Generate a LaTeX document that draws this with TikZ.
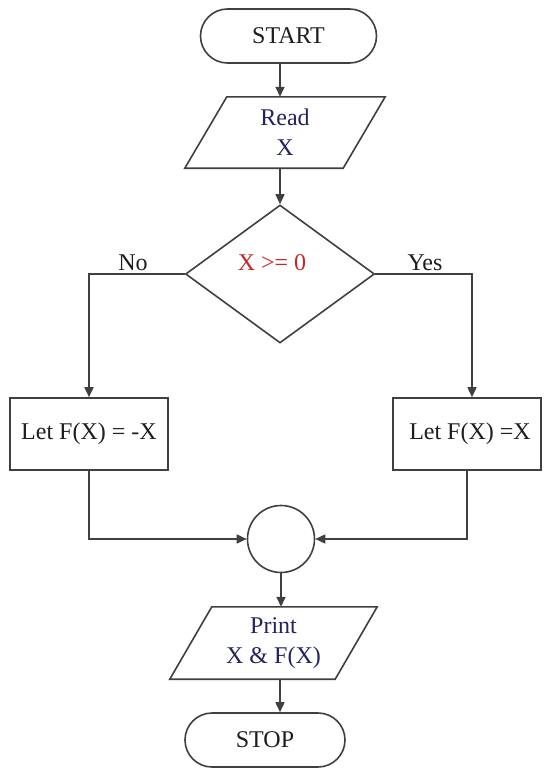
\documentclass[tikz,border=0pt]{standalone}
\usepackage{fontspec}
\setmainfont{Liberation Serif}
\usetikzlibrary{arrows.meta,shapes.geometric}
\definecolor{linegray}{HTML}{404040}
\definecolor{inkblue}{HTML}{23235E}
\definecolor{condred}{HTML}{C8262B}
\definecolor{inkblack}{HTML}{1E1E1E}
\begin{document}
\begin{tikzpicture}[x=1pt,y=-1pt,
  every node/.style={font=\fontsize{24}{30}\selectfont, inner sep=0pt, text=inkblack},
  flow/.style={draw=linegray, line width=1.6pt, line join=miter},
  arr/.style={flow, -{Triangle[length=10pt,width=9pt]}},
  terminal/.style={draw=linegray, line width=1.6pt, rectangle, rounded corners=27pt, minimum height=54pt},
  iobox/.style={rectangle, align=center, text=inkblue},
  process/.style={draw=linegray, line width=1.6pt, rectangle, minimum width=158pt, minimum height=72pt},
  decision/.style={draw=linegray, line width=1.6pt, diamond, minimum width=189pt, minimum height=138pt},
  junction/.style={draw=linegray, line width=1.6pt, circle, minimum size=67pt},
  branchlabel/.style={anchor=base}
]
\useasboundingbox[fill=white] (0,0) rectangle (548,768);

% spine of the main vertical flow
\coordinate (spine) at (280,0);

% terminals
\node[terminal, minimum width=176pt] (start) at (288.5,36) {START};
\node[terminal, minimum width=160pt] (stop) at (265,740) {STOP};

% input / output parallelograms (text nodes, outlines drawn from their corners)
\node[iobox, minimum width=158pt, minimum height=71pt] (read) at (285,132.5) {Read\\X};
\draw[flow] ([xshift=21pt]read.north west) -- ([xshift=21pt]read.north east)
  -- ([xshift=-21pt]read.south east) -- ([xshift=-21pt]read.south west) -- cycle;

\node[iobox, minimum width=165pt, minimum height=72pt] (print) at (273.5,643) {Print\\X \& F(X)};
\draw[flow] ([xshift=21pt]print.north west) -- ([xshift=21pt]print.north east)
  -- ([xshift=-21pt]print.south east) -- ([xshift=-21pt]print.south west) -- cycle;

% decision
\node[decision] (test) at (280,274) {};
\node[anchor=base, text=condred] (cond) at (272,270) {X >= 0};
\node[branchlabel] (nolab) at (133,270) {No};
\node[branchlabel] (yeslab) at (425,270) {Yes};

% processes
\node[process] (neg) at (89,434) {Let F(X) = -X};
\node[process, minimum width=148pt] (pos) at (467,434) {\hspace*{6pt}Let F(X) =X};

% junction
\node[junction] (join) at (281,539) {};

% column guide for the right branch arrow
\coordinate (rcol) at (472,0);

% connectors
\draw[arr] (start.south -| spine) -- (read.north -| spine);
\draw[arr] (read.south -| spine) -- (test.north);
\draw[arr] (test.west) -| (neg.north);
\draw[arr] (test.east) -| (pos.north -| rcol);
\draw[arr] (neg.south) |- (join.west);
\draw[arr] (pos.south) |- (join.east);
\draw[arr] (join.south) -- (print.north -| join.south);
\draw[arr] (print.south -| spine) -- (stop.north -| spine);
\end{tikzpicture}
\end{document}
